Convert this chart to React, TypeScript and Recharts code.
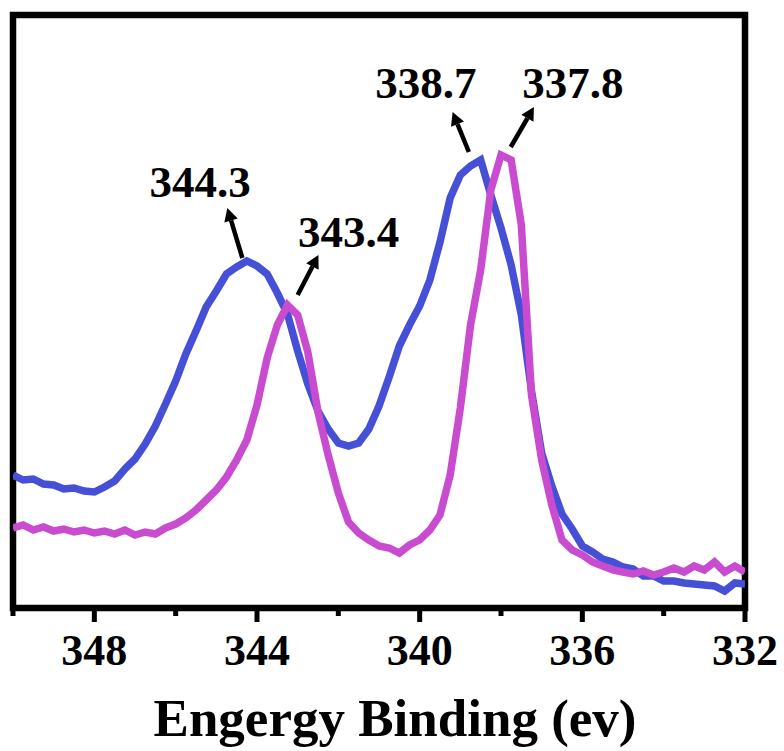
import React from 'react';
import { ComposedChart, Line, XAxis, YAxis, ReferenceArea, ReferenceLine, ReferenceDot } from 'recharts';

// binding energy grid, 350 -> 332 eV in 0.25 eV steps
const energies = Array.from({ length: 73 }, (_, i) => 350 - i * 0.25);

// intensity (a.u.)
const blueCounts = [
  133, 128, 129, 124, 123, 119, 120, 117, 116, 121,
  127, 139, 149, 164, 182, 204, 227, 254, 277, 301,
  317, 334, 341, 347, 342, 334, 315, 294, 257, 224,
  197, 179, 165, 162, 165, 179, 202, 231, 262, 283,
  302, 328, 366, 410, 433, 442, 448, 413, 380, 343,
  293, 217, 155, 122, 94, 79, 62, 56, 49, 46,
  41, 39, 32, 32, 27, 27, 25, 24, 23, 22,
  17, 25, 24,
];

const magentaCounts = [
  80, 83, 78, 81, 77, 79, 76, 78, 75, 77,
  74, 78, 73, 76, 74, 80, 84, 90, 98, 108,
  118, 131, 148, 168, 203, 250, 283, 303, 293, 256,
  196, 153, 115, 86, 75, 68, 62, 60, 55, 63,
  68, 78, 93, 133, 200, 283, 338, 418, 453, 448,
  383, 213, 148, 103, 68, 58, 53, 46, 42, 38,
  36, 34, 37, 33, 36, 40, 36, 42, 38, 46,
  36, 42, 36,
];

const allTicks = [350, 348, 346, 344, 342, 340, 338, 336, 334, 332];
const labeledTicks = [348, 344, 340, 336, 332];

// peak labels: text, text anchor point, arrow tail -> head
const peakLabels = ['344.3', '343.4', '338.7', '337.8'];
const labelAt = [
  { x: 345.4, y: 411 },
  { x: 341.75, y: 361 },
  { x: 339.85, y: 510 },
  { x: 336.23, y: 510 },
];
const arrowFrom = [
  { x: 344.36, y: 350 },
  { x: 343.0, y: 313 },
  { x: 338.79, y: 456 },
  { x: 337.76, y: 461 },
];
const arrowTo = [
  { x: 344.73, y: 400 },
  { x: 342.49, y: 353 },
  { x: 339.19, y: 496 },
  { x: 337.19, y: 501 },
];

const data = energies.map((e, i) => ({ energy: e, a: blueCounts[i], b: magentaCounts[i] }));

const FONT = '"Liberation Serif", "Times New Roman", serif';

const AxisTick = (props: any) => {
  const { x, y, payload } = props;
  const major = labeledTicks.includes(payload.value);
  return (
    <g>
      <line x1={x} x2={x} y1={y} y2={y + (major ? 14 : 8)} stroke="#000" strokeWidth={5} />
      {major && (
        <text x={x} y={y + 57} textAnchor="middle" fontFamily={FONT} fontWeight="bold" fontSize={44} fill="#000">
          {payload.value}
        </text>
      )}
    </g>
  );
};

const Arrow = (props: any) => {
  const { x1, y1, x2, y2 } = props;
  const dx = x2 - x1;
  const dy = y2 - y1;
  const len = Math.sqrt(dx * dx + dy * dy) || 1;
  const ux = dx / len;
  const uy = dy / len;
  const head = 13;
  const bx = x2 - ux * head;
  const by = y2 - uy * head;
  return (
    <g>
      <line x1={x1} y1={y1} x2={bx} y2={by} stroke="#000" strokeWidth={4.5} />
      <polygon
        points={`${x2},${y2} ${bx - uy * 7},${by + ux * 7} ${bx + uy * 7},${by - ux * 7}`}
        fill="#000"
      />
    </g>
  );
};

export default function App() {
  return (
    <div style={{ position: 'absolute', left: 0, top: 0, background: '#fff' }}>
      <ComposedChart width={784} height={751} data={data} margin={{ top: 15, right: 39, left: 13, bottom: 43 }}>
        <XAxis
          dataKey="energy"
          type="number"
          domain={[332, 350]}
          reversed
          ticks={allTicks}
          interval={0}
          allowDataOverflow
          axisLine={false}
          tickLine={false}
          tickSize={0}
          tickMargin={0}
          height={100}
          tick={<AxisTick />}
          label={{
            content: (p: any) => (
              <text x={p.viewBox.x + 382} y={p.viewBox.y + 128} textAnchor="middle" fontFamily={FONT} fontWeight="bold" fontSize={53} fill="#000">
                Engergy Binding (ev)
              </text>
            ),
          }}
        />
        <YAxis hide domain={[0, 593]} allowDataOverflow />
        <Line dataKey="a" stroke="#4550d6" strokeWidth={7.5} dot={false} isAnimationActive={false} type="linear" />
        <Line dataKey="b" stroke="#c94bd0" strokeWidth={7.5} dot={false} isAnimationActive={false} type="linear" />
        <ReferenceArea x1={350} x2={332} y1={0} y2={593} fill="none" stroke="#000" strokeWidth={6.5} ifOverflow="visible" />
        {peakLabels.map((t, i) => (
          <ReferenceLine key={`arr-${t}`} segment={[arrowFrom[i], arrowTo[i]]} ifOverflow="visible" shape={<Arrow />} />
        ))}
        {peakLabels.map((t, i) => (
          <ReferenceDot
            key={`lbl-${t}`}
            x={labelAt[i].x}
            y={labelAt[i].y}
            ifOverflow="visible"
            shape={(p: any) => (
              <text x={p.cx} y={p.cy} textAnchor="middle" fontFamily={FONT} fontWeight="bold" fontSize={45} fill="#000">
                {t}
              </text>
            )}
          />
        ))}
      </ComposedChart>
    </div>
  );
}
